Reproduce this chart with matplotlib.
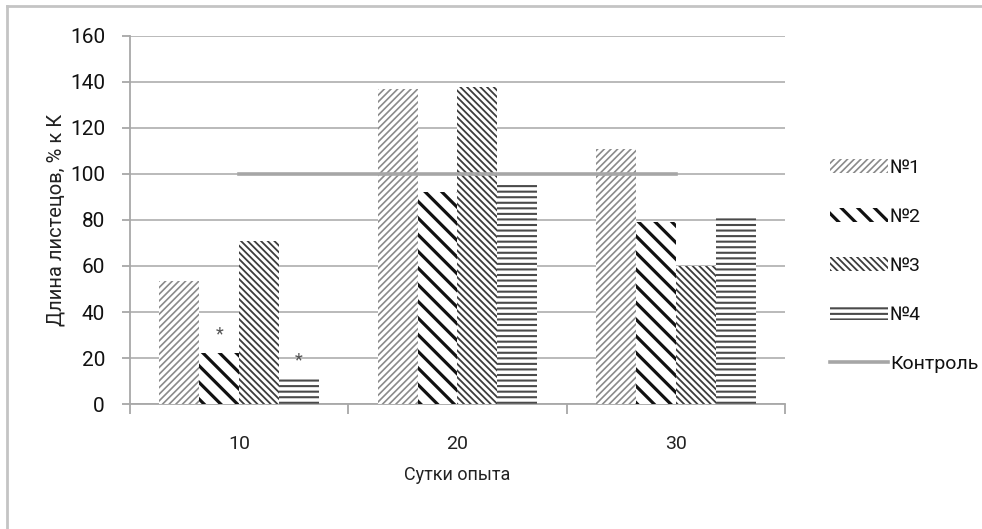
import matplotlib
matplotlib.use("Agg")
import matplotlib.pyplot as plt
from matplotlib.patches import Patch
from matplotlib.lines import Line2D
import numpy as np

plt.rcParams['font.family'] = ['Roboto', 'DejaVu Sans']
plt.rcParams['hatch.linewidth'] = 1.3

days = ["10", "20", "30"]
series_names = ["№1", "№2", "№3", "№4"]
s1 = [53.5, 137, 111]
s2 = [22, 92, 79]
s3 = [71, 138, 60]
s4 = [11, 96, 81]
control = [100, 100, 100]
significant = [(0, 1), (0, 3)]  # (day index, series index) marked with *

series = [s1, s2, s3, s4]
hatches = ["/////", "\\\\", "\\\\\\\\\\", "---"]
hatch_colors = ["#8a8a8a", "#111111", "#3c3c3c", "#4a4a4a"]
hatch_widths = [1.2, 2.3, 1.3, 1.5]


def style_hatch(patch, i):
    if hasattr(patch, "set_hatch_linewidth"):
        patch.set_hatch_linewidth(hatch_widths[i])


fig = plt.figure(figsize=(9.82, 5.29), dpi=100)
ax = fig.add_axes([130 / 982, 1 - 404 / 529, 655 / 982, 368 / 529])

x = np.arange(len(days))
w = 0.183
for i, vals in enumerate(series):
    b = ax.bar(x + (i - 1.5) * w, vals, w, facecolor="white",
               edgecolor=hatch_colors[i], hatch=hatches[i], linewidth=0,
               zorder=3)
    for p in b:
        style_hatch(p, i)

ax.plot(x, control, color="#a6a6a6", lw=2.6, zorder=4)

for di, si in significant:
    ax.annotate("*", (x[di] + (si - 1.5) * w, series[si][di]),
                xytext=(0, 7), textcoords="offset points", ha="center",
                va="bottom", fontsize=13, color="#555555", zorder=5)

ax.set_xlim(-0.5, 2.5)
ax.set_ylim(0, 160)
ax.set_yticks(np.arange(0, 161, 20))
ax.set_xticks(x)
ax.set_xticklabels(days)
ax.set_xticks([-0.5, 0.5, 1.5, 2.5], minor=True)
ax.tick_params(axis="x", which="major", length=0, pad=22, labelsize=14,
               labelcolor="#222222")
ax.tick_params(axis="x", which="minor", length=7, width=1.2, color="#a0a0a0")
ax.tick_params(axis="y", length=6, width=1.2, color="#a0a0a0", labelsize=15,
               labelcolor="#111111", pad=12)

ax.grid(axis="y", color="#b4b4b4", lw=1.3, zorder=0)
ax.set_axisbelow(True)
for side in ["top", "right"]:
    ax.spines[side].set_visible(False)
for side in ["left", "bottom"]:
    ax.spines[side].set_color("#a8a8a8")
    ax.spines[side].set_linewidth(1.3)

ax.set_ylabel("Длина листецов, % к К", fontsize=14.5, color="#222222",
              labelpad=3)
ax.set_xlabel("Сутки опыта", fontsize=13, color="#222222", labelpad=10)

handles = []
for i in range(4):
    h = Patch(facecolor="white", edgecolor=hatch_colors[i],
              hatch=hatches[i], linewidth=0)
    style_hatch(h, i)
    handles.append(h)
handles.append(Line2D([0], [0], color="#a6a6a6", lw=2.6))
labels = series_names + ["Контроль"]
leg = fig.legend(handles, labels, loc="center left",
                 bbox_to_anchor=(812 / 982, 1 - 266 / 529), frameon=False,
                 fontsize=14, labelspacing=1.6, handlelength=3.0,
                 handleheight=0.7, handletextpad=0.1, labelcolor="#111111")
for i, h in enumerate(leg.legend_handles[:4]):
    style_hatch(h, i)

# chart area frame
fig.add_artist(Line2D([7 / 982, 7 / 982], [0, 1 - 6 / 529],
                      transform=fig.transFigure, color="#c4c4c4", lw=2))
fig.add_artist(Line2D([7 / 982, 1], [1 - 6 / 529, 1 - 6 / 529],
                      transform=fig.transFigure, color="#c4c4c4", lw=2))

fig.savefig("out.png", dpi=100)
